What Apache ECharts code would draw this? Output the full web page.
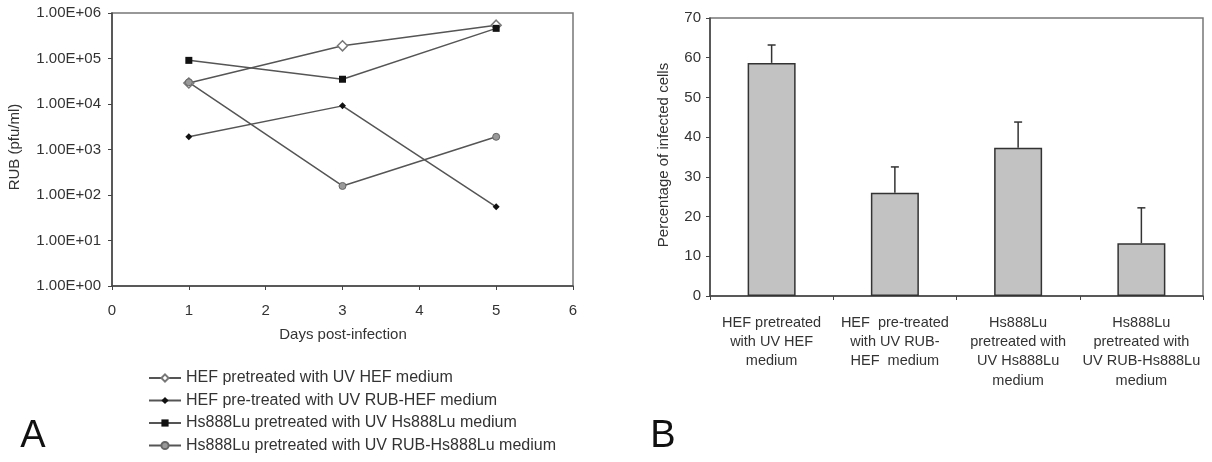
<!DOCTYPE html>
<html>
<head>
<meta charset="utf-8">
<script src="https://cdn.jsdelivr.net/npm/echarts@6/dist/echarts.min.js"></script>
<style>
html,body{margin:0;padding:0;background:#fff;}
#chart{width:1212px;height:462px;}
</style>
</head>
<body>
<div id="chart"></div>
<script>
// ---- Panel A data (RUB titres, pfu/ml) ----
const days = [1, 3, 5];
const seriesNamesA = [
  'HEF pretreated with UV HEF medium',
  'HEF pre-treated with UV RUB-HEF medium',
  'Hs888Lu pretreated with UV Hs888Lu medium',
  'Hs888Lu pretreated with UV RUB-Hs888Lu medium'
];
const hefUV = [29000, 190000, 540000];
const hefRUB = [1900, 9100, 55];
const hsUV = [91000, 35000, 460000];
const hsRUB = [30000, 158, 1900];
const xTicksA = [0, 1, 2, 3, 4, 5, 6];

// ---- Panel B data (percentage of infected cells) ----
const categoriesB = [
  'HEF pretreated\nwith UV HEF\nmedium',
  'HEF  pre-treated\nwith UV RUB-\nHEF  medium',
  'Hs888Lu\npretreated with\nUV Hs888Lu\nmedium',
  'Hs888Lu\npretreated with\nUV RUB-Hs888Lu\nmedium'
];
const percentB = [58.7, 26.0, 37.3, 13.3];
const errorB = [4.5, 6.5, 6.5, 8.9];

const FONT = "'Liberation Sans', Arial, sans-serif";
const TXT = '#333';
const LINE = '#555';

function sciLabel(v) {
  const e = Math.round(Math.log10(v));
  return '1.00E+' + String(e).padStart(2, '0');
}

const chart = echarts.init(document.getElementById('chart'), null, {renderer: 'canvas'});

const lineBase = {
  type: 'line',
  xAxisIndex: 0,
  yAxisIndex: 0,
  lineStyle: {color: LINE, width: 1.5},
  emphasis: {disabled: true},
  animation: false
};

const option = {
  backgroundColor: '#fff',
  animation: false,
  textStyle: {fontFamily: FONT, color: TXT},
  grid: [
    {left: 112, top: 13, width: 461, height: 273, show: true, borderColor: '#777', borderWidth: 1.5},
    {left: 710, top: 18, width: 493, height: 278, show: true, borderColor: '#777', borderWidth: 1.5}
  ],
  xAxis: [
    {
      gridIndex: 0, type: 'value', min: 0, max: 6, interval: 1,
      axisLine: {lineStyle: {color: '#444', width: 1.5}},
      axisTick: {show: true, length: 4, lineStyle: {color: '#444'}},
      splitLine: {show: false},
      axisLabel: {fontSize: 15, color: TXT, margin: 17, fontFamily: FONT,
        formatter: v => xTicksA.includes(v) ? String(v) : ''}
    },
    {
      gridIndex: 1, type: 'category', data: categoriesB,
      axisLine: {lineStyle: {color: '#444', width: 1.5}},
      axisTick: {show: true, length: 4, lineStyle: {color: '#444'}},
      axisLabel: {fontSize: 14.5, lineHeight: 19.3, color: TXT, margin: 17, interval: 0, fontFamily: FONT, align: 'center'}
    }
  ],
  yAxis: [
    {
      gridIndex: 0, type: 'log', logBase: 10, min: 1, max: 1000000,
      axisLine: {show: true, lineStyle: {color: '#444', width: 1.5}},
      axisTick: {show: true, length: 4, lineStyle: {color: '#444'}},
      splitLine: {show: false},
      minorTick: {show: false},
      axisLabel: {fontSize: 15, color: TXT, margin: 11, fontFamily: FONT, formatter: sciLabel}
    },
    {
      gridIndex: 1, type: 'value', min: 0, max: 70, interval: 10,
      axisLine: {show: true, lineStyle: {color: '#444', width: 1.5}},
      axisTick: {show: true, length: 4, lineStyle: {color: '#444'}},
      splitLine: {show: false},
      axisLabel: {fontSize: 15, color: TXT, margin: 9, fontFamily: FONT}
    }
  ],
  legend: {
    orient: 'vertical',
    left: 143, top: 365,
    itemWidth: 32, itemHeight: 9, itemGap: 6.5,
    textStyle: {fontSize: 16, color: TXT, fontFamily: FONT},
    data: seriesNamesA,
    selectedMode: false
  },
  series: [
    Object.assign({}, lineBase, {
      name: seriesNamesA[0],
      data: days.map((d, i) => [d, hefUV[i]]),
      symbol: 'diamond', symbolSize: 10,
      itemStyle: {color: '#fff', borderColor: '#777', borderWidth: 1.5}
    }),
    Object.assign({}, lineBase, {
      name: seriesNamesA[1],
      data: days.map((d, i) => [d, hefRUB[i]]),
      symbol: 'diamond', symbolSize: 7,
      itemStyle: {color: '#111'}
    }),
    Object.assign({}, lineBase, {
      name: seriesNamesA[2],
      data: days.map((d, i) => [d, hsUV[i]]),
      symbol: 'rect', symbolSize: 7,
      itemStyle: {color: '#111'}
    }),
    Object.assign({}, lineBase, {
      name: seriesNamesA[3],
      data: days.map((d, i) => [d, hsRUB[i]]),
      symbol: 'circle', symbolSize: 7,
      itemStyle: {color: '#999', borderColor: '#666', borderWidth: 1}
    }),
    {
      type: 'bar', name: 'pct', xAxisIndex: 1, yAxisIndex: 1,
      data: percentB, barWidth: 48,
      itemStyle: {color: '#c2c2c2', borderColor: '#333', borderWidth: 1.5},
      emphasis: {disabled: true}
    },
    {
      type: 'custom', name: 'err', xAxisIndex: 1, yAxisIndex: 1,
      data: percentB.map((v, i) => [i, v, v + errorB[i]]),
      renderItem: function (params, api) {
        const base = api.coord([api.value(0), api.value(1)]);
        const top = api.coord([api.value(0), api.value(2)]);
        const style = {stroke: '#333', lineWidth: 1.5};
        return {
          type: 'group',
          children: [
            {type: 'line', shape: {x1: base[0], y1: base[1], x2: top[0], y2: top[1]}, style: style},
            {type: 'line', shape: {x1: top[0] - 4, y1: top[1], x2: top[0] + 4, y2: top[1]}, style: style}
          ]
        };
      },
      z: 5
    }
  ],
  graphic: [
    {type: 'text', x: 343, y: 335, style: {text: 'Days post-infection', font: '15px ' + FONT, fill: TXT, textAlign: 'center', textVerticalAlign: 'middle'}},
    {type: 'text', x: 15, y: 147, rotation: Math.PI / 2, style: {text: 'RUB (pfu/ml)', font: '15px ' + FONT, fill: TXT, textAlign: 'center', textVerticalAlign: 'middle'}},
    {type: 'text', x: 664, y: 155, rotation: Math.PI / 2, style: {text: 'Percentage of infected cells', font: '15px ' + FONT, fill: TXT, textAlign: 'center', textVerticalAlign: 'middle'}},
    {type: 'text', x: 33, y: 437, style: {text: 'A', font: '38px ' + FONT, fill: '#111', textAlign: 'center', textVerticalAlign: 'middle'}},
    {type: 'text', x: 663, y: 437, style: {text: 'B', font: '38px ' + FONT, fill: '#111', textAlign: 'center', textVerticalAlign: 'middle'}}
  ]
};

chart.setOption(option);
</script>
</body>
</html>
